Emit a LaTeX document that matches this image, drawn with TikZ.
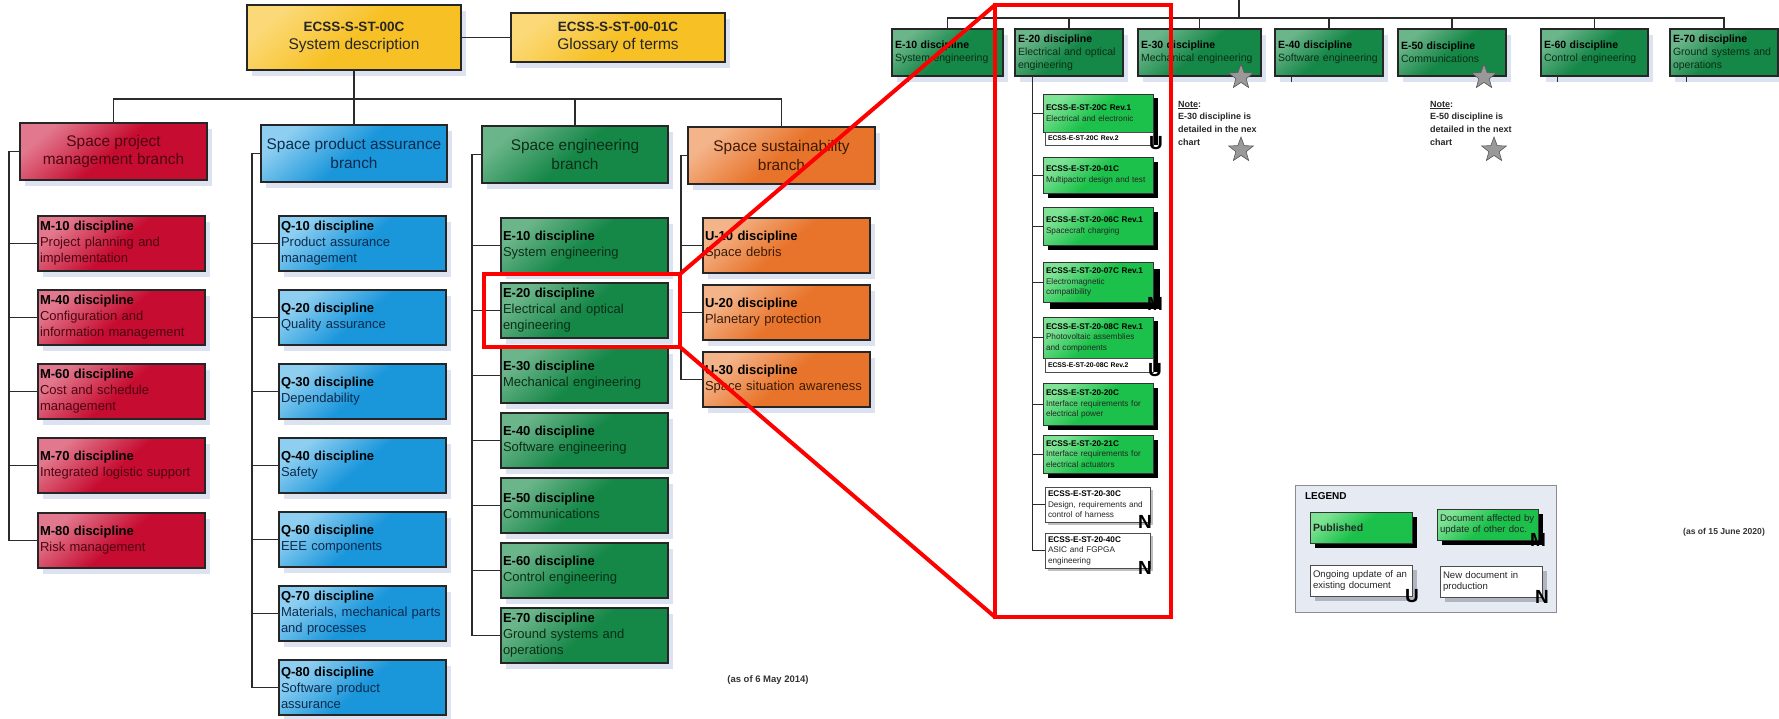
\documentclass[tikz,border=0pt]{standalone}
\usepackage{fontspec}
\setmainfont{Liberation Sans}
\usepackage{xcolor}
\usetikzlibrary{positioning,shadows,shapes.geometric}

\definecolor{goldlight}{HTML}{FBD978}
\definecolor{goldbase}{HTML}{F7C125}
\definecolor{redlight}{HTML}{E2788D}
\definecolor{redbase}{HTML}{C60C30}
\definecolor{redtext}{HTML}{4D0512}
\definecolor{bluelight}{HTML}{8ECFF1}
\definecolor{bluebase}{HTML}{1A96DB}
\definecolor{bluetext}{HTML}{0B2B4D}
\definecolor{greenlight}{HTML}{6BB58A}
\definecolor{greenbase}{HTML}{158747}
\definecolor{greentext}{HTML}{0A2E17}
\definecolor{orangelight}{HTML}{F4B48A}
\definecolor{orangebase}{HTML}{E8742B}
\definecolor{orangetext}{HTML}{3D1A05}
\definecolor{publight}{HTML}{7EE395}
\definecolor{pubbase}{HTML}{1BC14A}
\definecolor{shadowblue}{HTML}{DCE2EF}
\definecolor{legendbg}{HTML}{E6EBF3}
\definecolor{linkgray}{HTML}{2B2B2B}

\newcommand{\disc}[2]{{\bfseries\color{black}#1 discipline}\\#2}
\newcommand{\docid}[2]{{\bfseries\color{black}#1}\\#2}

\begin{document}
\begin{tikzpicture}[
    x=1pt, y=-1pt,
    every node/.style={inner sep=0pt, outer sep=0pt},
    link/.style={draw=linkgray, line width=1.3pt},
    lightshadow/.style={drop shadow={shadow xshift=5pt, shadow yshift=-6pt, fill=shadowblue, opacity=1}},
    darkshadow/.style={drop shadow={shadow xshift=5pt, shadow yshift=-5pt, fill=black, opacity=1}},
    smallshadow/.style={drop shadow={shadow xshift=3pt, shadow yshift=-3pt, fill=black!25, opacity=1}},
    glossy/.style={draw=black!85, line width=1.3pt, lightshadow},
    mfill/.style={top color=redlight, bottom color=redbase, middle color=redbase, shading angle=40, text=redtext},
    qfill/.style={top color=bluelight, bottom color=bluebase, middle color=bluebase, shading angle=40, text=bluetext},
    efill/.style={top color=greenlight, bottom color=greenbase, middle color=greenbase, shading angle=40, text=greentext},
    ufill/.style={top color=orangelight, bottom color=orangebase, middle color=orangebase, shading angle=40, text=orangetext},
    gfill/.style={top color=goldlight, bottom color=goldbase, middle color=goldbase, shading angle=40, text=black!85},
    pfill/.style={top color=publight, bottom color=pubbase, middle color=pubbase, shading angle=40, text=black!85},
    goldbox/.style={glossy, gfill, line width=2pt, anchor=north west, minimum width=214pt,
        align=center, font=\fontsize{15.5}{18.5}\selectfont},
    branchbox/.style={glossy, line width=1.8pt, anchor=north west, minimum width=187pt, minimum height=57pt,
        align=center, font=\fontsize{15.4}{18.5}\selectfont},
    discbox/.style={glossy, anchor=north west, text width=163pt, inner xsep=2pt, minimum height=55pt,
        align=left, font=\fontsize{13}{16}\selectfont},
    rowbox/.style={glossy, efill, line width=1.1pt, anchor=north west, text width=102pt, inner xsep=3pt,
        minimum height=47pt, align=left, font=\fontsize{10.5}{13}\selectfont},
    docbox/.style={pfill, draw=black!80, line width=0.8pt, anchor=north west, text width=104pt,
        inner xsep=3pt, align=left, font=\fontsize{8.2}{10.5}\selectfont},
    newbox/.style={draw=black!70, line width=0.7pt, fill=white, text=black!85, anchor=north west,
        text width=99pt, inner xsep=3pt, align=left, font=\fontsize{8.2}{10.5}\selectfont},
    revbox/.style={draw=black!70, line width=0.7pt, fill=white, anchor=north west, text width=102pt,
        inner xsep=3pt, minimum height=13pt, align=left, font=\fontsize{6.8}{8}\selectfont\bfseries},
    tag/.style={font=\fontsize{19}{19}\selectfont\bfseries},
    greystar/.style={star, star points=5, star point ratio=2.4, draw=black!65, fill=black!40,
        minimum size=26pt, line width=0.6pt},
    note/.style={anchor=north west, align=left, text=black!85, font=\fontsize{9}{12.7}\selectfont\bfseries},
    stamp/.style={text=black!80, font=\fontsize{9.5}{11}\selectfont\bfseries},
    zoomline/.style={draw=red, line width=4pt}
]
\useasboundingbox (0,0) rectangle (1779,718);

% Top standards
\node[goldbox, minimum height=65pt] (sys) at (247,5)
    {{\bfseries\fontsize{13.5}{18.5}\selectfont ECSS-S-ST-00C}\\System description};
\node[goldbox, line width=1.6pt, minimum height=49pt] (glo) at (511,13)
    {{\bfseries\fontsize{13.5}{18.5}\selectfont ECSS-S-ST-00-01C}\\Glossary of terms};
\draw[link] (sys.east) -- (glo.west);

% Branches
\node[branchbox, mfill] (pm) at (20,123) {Space project\\management branch};
\node[branchbox, qfill, minimum width=186pt] (pa) at (261,125) {Space product assurance\\branch};
\node[branchbox, efill, minimum width=186pt] (eng) at (482,126) {Space engineering\\branch};
\node[branchbox, ufill] (su) at (688,127) {Space sustainability\\branch};

\coordinate (lbus) at (354,99);
\draw[link] (sys.south) -- (sys.south |- lbus);
\draw[link] (pm.north) |- (lbus) -| (su.north);
\draw[link] (pa.north) -- (pa.north |- lbus);
\draw[link] (eng.north) -- (eng.north |- lbus);

% M disciplines
\node[discbox, mfill] (m10) at (38,216) {\disc{M-10}{Project planning and\\implementation}};
\node[discbox, mfill] (m40) at (38,290) {\disc{M-40}{Configuration and\\information management}};
\node[discbox, mfill] (m60) at (38,364) {\disc{M-60}{Cost and schedule\\management}};
\node[discbox, mfill] (m70) at (38,438) {\disc{M-70}{Integrated logistic support}};
\node[discbox, mfill] (m80) at (38,513) {\disc{M-80}{Risk management}};

% Q disciplines
\node[discbox, qfill] (q10) at (279,216) {\disc{Q-10}{Product assurance\\management}};
\node[discbox, qfill] (q20) at (279,290) {\disc{Q-20}{Quality assurance}};
\node[discbox, qfill] (q30) at (279,364) {\disc{Q-30}{Dependability}};
\node[discbox, qfill] (q40) at (279,438) {\disc{Q-40}{Safety}};
\node[discbox, qfill] (q60) at (279,512) {\disc{Q-60}{EEE components}};
\node[discbox, qfill] (q70) at (279,586) {\disc{Q-70}{Materials, mechanical parts\\and processes}};
\node[discbox, qfill] (q80) at (279,660) {\disc{Q-80}{Software product\\assurance}};

% E disciplines
\node[discbox, efill] (e10) at (501,218) {\disc{E-10}{System engineering}};
\node[discbox, efill] (e20) at (501,283) {\disc{E-20}{Electrical and optical\\engineering}};
\node[discbox, efill] (e30) at (501,348) {\disc{E-30}{Mechanical engineering}};
\node[discbox, efill] (e40) at (501,413) {\disc{E-40}{Software engineering}};
\node[discbox, efill] (e50) at (501,478) {\disc{E-50}{Communications}};
\node[discbox, efill] (e60) at (501,543) {\disc{E-60}{Control engineering}};
\node[discbox, efill] (e70) at (501,608) {\disc{E-70}{Ground systems and\\operations}};

% U disciplines
\node[discbox, ufill] (u10) at (703,218) {\disc{U-10}{Space debris}};
\node[discbox, ufill] (u20) at (703,285) {\disc{U-20}{Planetary protection}};
\node[discbox, ufill] (u30) at (703,352) {\disc{U-30}{Space situation awareness}};

% Trunks
\coordinate (mt) at (9,0);
\coordinate (qt) at (252,0);
\coordinate (et) at (472,0);
\coordinate (ut) at (681,0);
\draw[link] (pm.west) -- (pm.west -| mt) |- (m80.west)
    (m10.west) -- (m10.west -| mt) (m40.west) -- (m40.west -| mt)
    (m60.west) -- (m60.west -| mt) (m70.west) -- (m70.west -| mt);
\draw[link] (pa.west) -- (pa.west -| qt) |- (q80.west)
    (q10.west) -- (q10.west -| qt) (q20.west) -- (q20.west -| qt)
    (q30.west) -- (q30.west -| qt) (q40.west) -- (q40.west -| qt)
    (q60.west) -- (q60.west -| qt) (q70.west) -- (q70.west -| qt);
\draw[link] (eng.west) -- (eng.west -| et) |- (e70.west)
    (e10.west) -- (e10.west -| et) (e20.west) -- (e20.west -| et)
    (e30.west) -- (e30.west -| et) (e40.west) -- (e40.west -| et)
    (e50.west) -- (e50.west -| et) (e60.west) -- (e60.west -| et);
\draw[link] (su.west) -- (su.west -| ut) |- (u30.west)
    (u10.west) -- (u10.west -| ut) (u20.west) -- (u20.west -| ut);

\node[stamp] (st14) at (768,680) {(as of 6 May 2014)};

% Right: E branch row
\node[rowbox, text width=105pt] (e10r) at (892,29) {\disc{E-10}{System engineering}};
\node[rowbox] (e20r) at (1015,29) {\disc{E-20}{Electrical and optical\\engineering}};
\node[rowbox, text width=117pt] (e30r) at (1138,29) {\disc{E-30}{Mechanical engineering}};
\node[rowbox] (e40r) at (1275,29) {\disc{E-40}{Software engineering}};
\node[rowbox] (e50r) at (1398,29) {\disc{E-50}{Communications}};
\node[rowbox, text width=101pt] (e60r) at (1541,29) {\disc{E-60}{Control engineering}};
\node[rowbox] (e70r) at (1670,29) {\disc{E-70}{Ground systems and\\operations}};

\coordinate (rtop) at (1239,0);
\coordinate (rbus) at (1239,18);
\draw[link] (rtop) -- (rbus);
\draw[link] (e10r.north) |- (rbus) -| (e70r.north);
\draw[link] (e20r.north) -- (e20r.north |- rbus);
\draw[link] (e30r.north) -- (e30r.north |- rbus);
\draw[link] (e40r.north) -- (e40r.north |- rbus);
\draw[link] (e50r.north) -- (e50r.north |- rbus);
\draw[link] (e60r.north) -- (e60r.north |- rbus);
\draw[link, line width=1pt] ([xshift=16pt]e10r.south west) -- ++(0,6);
\draw[link, line width=1pt] ([xshift=16pt]e40r.south west) -- ++(0,6);
\draw[link, line width=1pt] ([xshift=16pt]e60r.south west) -- ++(0,6);
\draw[link, line width=1pt] ([xshift=16pt]e70r.south west) -- ++(0,6);

% E-20 documents
\node[docbox, minimum height=38pt] (d1) at (1043,94) {\docid{ECSS-E-ST-20C Rev.1}{Electrical and electronic}};
\node[revbox] (d1r) at (1045,132) {ECSS-E-ST-20C Rev.2};
\fill[black] ([xshift=0.5pt,yshift=-4pt]d1.north east) rectangle ([xshift=5pt]d1r.south east);
\node[docbox, darkshadow, minimum height=36pt] (d2) at (1043,157) {\docid{ECSS-E-ST-20-01C}{Multipactor design and test}};
\node[docbox, darkshadow, minimum height=38pt] (d3) at (1043,207) {\docid{ECSS-E-ST-20-06C Rev.1}{Spacecraft charging}};
\node[docbox, drop shadow={shadow xshift=7pt, shadow yshift=-7pt, fill=black, opacity=1}, minimum height=40pt]
    (d4) at (1043,262) {\docid{ECSS-E-ST-20-07C Rev.1}{Electromagnetic\\compatibility}};
\node[docbox, minimum height=41pt] (d5) at (1043,317) {\docid{ECSS-E-ST-20-08C Rev.1}{Photovoltaic assemblies\\and components}};
\node[revbox, minimum height=14pt] (d5r) at (1045,358) {ECSS-E-ST-20-08C Rev.2};
\fill[black] ([xshift=0.5pt,yshift=-4pt]d5.north east) rectangle ([xshift=5pt]d5r.south east);
\node[docbox, darkshadow, minimum height=42pt] (d6) at (1043,383) {\docid{ECSS-E-ST-20-20C}{Interface requirements for\\electrical power}};
\node[docbox, darkshadow, minimum height=38pt] (d7) at (1043,435) {\docid{ECSS-E-ST-20-21C}{Interface requirements for\\electrical actuators}};
\node[newbox, smallshadow, minimum height=35pt] (d8) at (1045,487) {\docid{ECSS-E-ST-20-30C}{Design, requirements and\\control of harness}};
\node[newbox, smallshadow, minimum height=35pt] (d9) at (1045,533) {\docid{ECSS-E-ST-20-40C}{ASIC and FGPGA\\engineering}};

\coordinate (ct) at ([xshift=17pt]e20r.south west);
\draw[link, line width=1pt] (ct) |- (d9.west)
    (d1.west) -- (d1.west -| ct) (d2.west) -- (d2.west -| ct)
    (d3.west) -- (d3.west -| ct) (d4.west) -- (d4.west -| ct)
    (d5.west) -- (d5.west -| ct) (d6.west) -- (d6.west -| ct)
    (d7.west) -- (d7.west -| ct) (d8.west) -- (d8.west -| ct);

\node[tag] (t1) at ([xshift=3pt,yshift=2pt]d1r.south east) {U};
\node[tag] (t4) at ([xshift=2pt,yshift=-2pt]d4.south east) {M};
\node[tag] (t5) at ([xshift=2pt,yshift=2pt]d5r.south east) {U};
\node[tag] (t8) at ([xshift=-5pt]d8.south east) {N};
\node[tag] (t9) at ([xshift=-5pt]d9.south east) {N};

% Notes
\node[greystar] (s30) at (1241,77) {};
\node[greystar] (s50) at (1484,77) {};
\node[note] (n30) at (1178,101) {\underline{Note}:\\E-30 discipline is\\detailed in the nex\\chart};
\node[note] (n50) at (1430,101) {\underline{Note}:\\E-50 discipline is\\detailed in the next\\chart};
\node[greystar] (s30n) at (1241,150) {};
\node[greystar] (s50n) at (1494,150) {};

% Legend
\node[draw=black!45, line width=1pt, fill=legendbg, anchor=north west, minimum width=261pt,
    minimum height=127pt] (lg) at (1295,485) {};
\node[anchor=west, font=\fontsize{10}{12}\selectfont\bfseries] (lgt) at (1305,496) {LEGEND};
\node[docbox, darkshadow, text width=96pt, minimum height=31pt,
    font=\fontsize{10.5}{12}\selectfont\bfseries] (lpub) at (1310,512) {Published};
\node[docbox, darkshadow, text width=95pt, minimum height=31pt,
    font=\fontsize{9.6}{11.5}\selectfont] (laff) at (1437,509) {Document affected by\\update of other doc.};
\node[newbox, text width=96pt, minimum height=31pt, font=\fontsize{9.6}{11.5}\selectfont,
    drop shadow={shadow xshift=5pt, shadow yshift=-5pt, fill=black!20!shadowblue, opacity=1}]
    (lupd) at (1310,565) {Ongoing update of an\\existing document};
\node[newbox, text width=96pt, minimum height=31pt, font=\fontsize{9.6}{11.5}\selectfont,
    drop shadow={shadow xshift=5pt, shadow yshift=-5pt, fill=black!20!shadowblue, opacity=1}]
    (lnew) at (1440,566) {New document in\\production};
\node[tag] (tm) at (laff.south east) {M};
\node[tag] (tu) at (lupd.south east) {U};
\node[tag] (tn) at (lnew.south east) {N};

\node[stamp, font=\fontsize{8.6}{10}\selectfont\bfseries] (st20) at (1724,532) {(as of 15 June 2020)};

% Zoom frames
\node[zoomline, anchor=north west, minimum width=196pt, minimum height=73pt] (zs) at (484,274) {};
\node[zoomline, anchor=north west, minimum width=176pt, minimum height=612pt] (zb) at (995,5) {};
\draw[zoomline] (zs.north east) -- (zb.north west);
\draw[zoomline] (zs.south east) -- (zb.south west);

\end{tikzpicture}
\end{document}
